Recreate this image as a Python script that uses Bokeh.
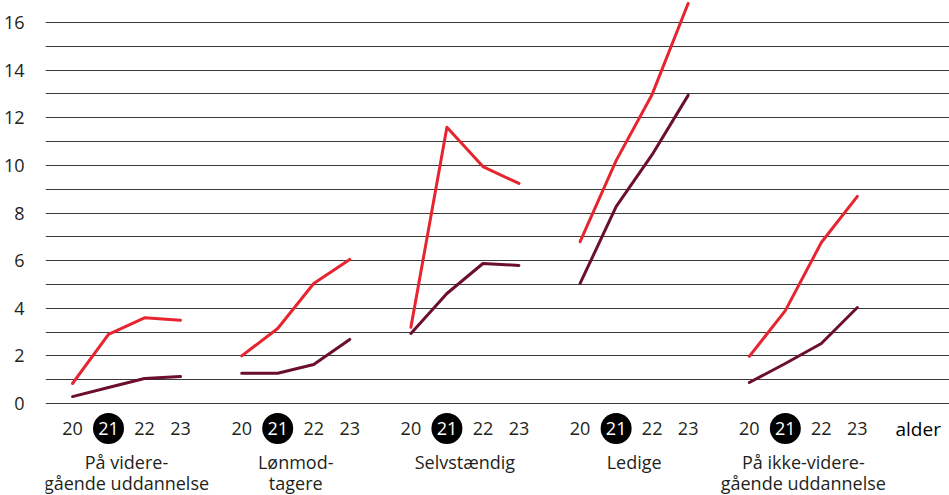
from bokeh.plotting import figure
from bokeh.models import FixedTicker, ColumnDataSource
from bokeh.core.properties import value
from bokeh.embed import file_html
from bokeh.resources import INLINE

# ---------------- data ----------------
ages = [20, 21, 22, 23]
categories = ["På videre-\ngående uddannelse", "Lønmod-\ntagere", "Selvstændig",
              "Ledige", "På ikke-videre-\ngående uddannelse"]
series_red = [
    [0.84, 2.9, 3.6, 3.5],
    [2.0, 3.15, 5.04, 6.05],
    [3.2, 11.6, 9.95, 9.24],
    [6.8, 10.2, 12.98, 16.8],
    [1.98, 3.9, 6.76, 8.7],
]
series_dark = [
    [0.29, 0.67, 1.05, 1.13],
    [1.27, 1.27, 1.64, 2.69],
    [2.94, 4.62, 5.88, 5.8],
    [5.04, 8.27, 10.45, 12.94],
    [0.88, 1.68, 2.52, 4.03],
]
y_ticks = [0, 2, 4, 6, 8, 10, 12, 14, 16]
grid_lines = list(range(0, 17))
highlight_age = 21
axis_title = "alder"

# ---------------- layout ----------------
GROUP_STEP = 4.7
PX = 23.8125  # pixels per y unit
FONT = "Open Sans"
FS = "18px"
TXT = "#231f20"
RED = "#e62530"
DARK = "#6b0f2c"

def xpos(g, a):
    return g * GROUP_STEP + (a - 20)

W, H = 949, 495
p = figure(width=W, height=H, output_backend="svg", toolbar_location=None,
           x_range=(-0.75, 24.36), y_range=(-92 / PX, 403 / PX),
           x_axis_location=None, min_border_left=45, min_border_right=0,
           min_border_top=0, min_border_bottom=0)
p.outline_line_color = None
p.background_fill_color = "white"
p.border_fill_color = "white"
p.xgrid.visible = False
p.ygrid.ticker = FixedTicker(ticks=grid_lines)
p.ygrid.grid_line_color = "#3a3a3a"
p.ygrid.grid_line_width = 1

ax = p.yaxis[0]
ax.ticker = FixedTicker(ticks=y_ticks)
ax.axis_line_color = None
ax.major_tick_line_color = None
ax.minor_tick_line_color = None
ax.major_label_standoff = 15
ax.major_label_text_font = FONT
ax.major_label_text_font_size = FS
ax.major_label_text_color = TXT

for g in range(len(categories)):
    xs = [xpos(g, a) for a in ages]
    p.line(xs, series_red[g], line_color=RED, line_width=3, line_join="round", line_cap="round")
    p.line(xs, series_dark[g], line_color=DARK, line_width=3, line_join="round", line_cap="round")

# age tick labels
tick_y = -25 / PX
lx, ly, lt, lc = [], [], [], []
cx = []
for g in range(len(categories)):
    for a in ages:
        lx.append(xpos(g, a))
        ly.append(tick_y)
        lt.append(str(a))
        lc.append("white" if a == highlight_age else TXT)
        if a == highlight_age:
            cx.append(xpos(g, a))
p.scatter(cx, [tick_y] * len(cx), size=31, marker="circle", fill_color="black", line_color=None)
src = ColumnDataSource(dict(x=lx, y=ly, t=lt, c=lc))
p.text("x", "y", text="t", source=src, text_color="c", text_font=value(FONT),
       text_font_size=FS, text_align="center", text_baseline="middle")

# category labels
l1x, l1t, l2x, l2t = [], [], [], []
for g, c in enumerate(categories):
    parts = c.split("\n")
    center = xpos(g, 21.5)
    l1x.append(center); l1t.append(parts[0])
    if len(parts) > 1:
        l2x.append(center); l2t.append(parts[1])
p.text(l1x, [-58 / PX] * len(l1x), text=l1t, text_color=TXT, text_font=value(FONT),
       text_font_size=FS, text_align="center", text_baseline="middle")
p.text(l2x, [-79 / PX] * len(l2x), text=l2t, text_color=TXT, text_font=value(FONT),
       text_font_size=FS, text_align="center", text_baseline="middle")

# axis title
p.text([22.86], [tick_y], text=[axis_title], text_color="#000000", text_font=value(FONT),
       text_font_size="19px", text_align="left", text_baseline="middle")

open("out.html", "w").write(file_html(p, INLINE))
